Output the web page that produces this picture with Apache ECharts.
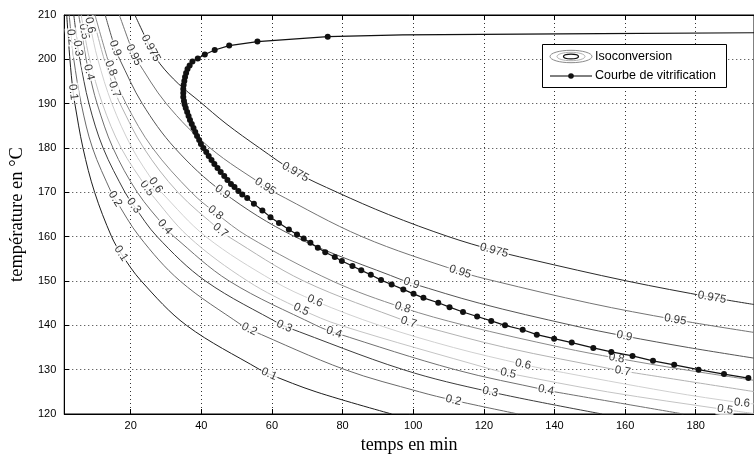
<!DOCTYPE html>
<html><head><meta charset="utf-8">
<script src="https://cdn.jsdelivr.net/npm/echarts@6/dist/echarts.min.js"></script>
<style>html,body{margin:0;padding:0;background:#fff}#c{width:754px;height:459px}</style>
</head><body><div id="c"></div>
<script>
// ---- axis ticks ----
const xTicks = [20, 40, 60, 80, 100, 120, 140, 160, 180];
const X_MIN = 1.2, X_MAX = 196.5, Y_MIN = 120, Y_MAX = 210;

// ---- isoconversion levels ----
const levels = ['0.1','0.2','0.3','0.4','0.5','0.6','0.7','0.8','0.9','0.95','0.975'];

// contours: [time (min), temperature (°C)]
const iso_01 = [[1.9,210],[2.8,200],[3.7,192.6],[4.2,190],[6.5,180],[9.8,170],[14.6,160],[17.3,156.2],[23.0,150],[35.8,140],[56.6,130],[59.2,129],[72.5,125],[93.9,120]];
const iso_02 = [[2.6,210],[3.2,205],[3.9,200],[6.0,190],[9.2,180],[14.5,170],[15.6,168.5],[22.5,160],[34.0,150],[51.5,140],[53.6,139.1],[80.7,130],[101.8,125],[111.4,123.1],[129.7,120]];
const iso_03 = [[3.9,210],[5.1,202.5],[5.6,200],[8.2,190],[12.2,180],[18.4,170],[20.9,167],[27.5,160],[41.2,150],[62.9,140],[63.5,139.8],[97.2,130],[121.8,125],[153.5,120]];
const iso_04 = [[5.3,210],[7.4,200],[8.2,197.1],[10.5,190],[15.0,180],[21.9,170],[29.7,162.2],[32.3,160],[47.9,150],[72.5,140],[77.6,138.4],[111.9,130],[137.6,125.4],[140.1,125],[176.5,120]];
const iso_05 = [[6.0,210],[6.8,206.3],[8.4,200],[12.0,190],[17.3,180],[24.6,170.9],[25.4,170],[36.4,160],[53.1,150],[68.3,143.6],[79.4,140],[122.5,130],[126.9,129.2],[155.0,125],[188.3,121],[196.5,120.1]];
const iso_06 = [[7.9,210],[8.5,207.7],[10.7,200],[14.7,190],[20.4,180],[27.1,171.6],[28.7,170],[41.3,160],[60.5,150],[72.2,145.5],[90.4,140],[111.4,135],[131.1,131.2],[138.2,130],[172.5,125],[193.1,122.5],[196.5,122.3]];
const iso_07 = [[9.2,210],[12.5,200],[15.4,193.2],[17.0,190],[23.7,180],[33.4,170],[45.4,161.4],[47.7,160],[69.0,150],[98.7,140.7],[101.7,140],[126.1,135],[157.2,130],[159.3,129.7],[196.5,125.05]];
const iso_08 = [[9.9,210],[13.5,200],[14.4,198],[18.7,190],[26.2,180],[37.2,170],[44.0,165.4],[53.3,160],[77.1,150],[97.0,144],[114.6,140],[142.0,135],[157.6,132.6],[176.7,130],[196.5,127.6]];
const iso_09 = [[12.8,210],[15.6,202.5],[16.9,200],[23.3,190],[32.5,180],[46.0,170.1],[66.5,160],[97.6,150],[99.5,149.5],[118.7,145],[145.0,140],[159.8,137.6],[177.9,135],[196.5,132.6]];
const iso_095 = [[16.8,210],[20.9,201],[21.6,200],[30.1,190],[42.5,180],[58.1,171.3],[60.7,170],[85.5,160],[113.3,152.1],[123.0,150],[150.0,145],[174.2,141.3],[196.5,138.4]];
const iso_0975 = [[21.2,210],[25.7,202.5],[28.3,199],[33.5,194.5],[39.5,190.5],[47.0,185.5],[56.5,180],[66.6,174.6],[78.5,170],[93.0,165],[110.0,160],[122.9,156.9],[132.5,155],[160.5,150],[184.6,146.3],[196.5,144.7]];

// inline label anchors [time, temperature]
const lab_01 = [[3.7,192.6],[17.3,156.2],[59.2,129]];
const lab_02 = [[3.2,205],[15.6,168.5],[53.6,139.1],[111.4,123.1]];
const lab_03 = [[5.1,202.5],[20.9,167],[63.5,139.8],[121.8,125]];
const lab_04 = [[8.2,197.1],[29.7,162.2],[77.6,138.4],[137.6,125.4]];
const lab_05 = [[6.8,206.3],[24.6,170.9],[68.3,143.6],[126.9,129.2],[188.3,121.0]];
const lab_06 = [[8.5,207.7],[27.1,171.6],[72.2,145.5],[131.1,131.2],[193.1,122.5]];
const lab_07 = [[15.4,193.2],[45.4,161.4],[98.7,140.7],[159.3,129.7]];
const lab_08 = [[14.4,198.0],[44.0,165.4],[97.0,144.0],[157.6,132.6]];
const lab_09 = [[15.6,202.5],[46.0,170.1],[99.5,149.5],[159.8,137.6]];
const lab_095 = [[20.9,201.0],[58.1,171.3],[113.3,152.1],[174.2,141.3]];
const lab_0975 = [[25.7,202.5],[66.6,174.6],[122.9,156.9],[184.6,146.3]];

// vitrification curve
const vitTail = [[196.5,206.0],[153.0,205.8],[97.0,205.5]];
const vitPoints = [[75.8,205.1],[55.9,204.0],[47.9,203.1],[43.8,202.1],[41.0,201.1],[39.0,200.2],[37.5,199.5],[36.7,198.6],[36.1,197.8],[35.7,196.9],[35.4,196.0],[35.2,195.1],[35.0,194.2],[34.9,193.3],[34.9,192.4],[34.9,191.5],[35.1,190.6],[35.3,189.8],[35.6,189.0],[36.0,188.1],[36.4,187.2],[36.8,186.3],[37.3,185.4],[37.8,184.5],[38.3,183.6],[38.8,182.7],[39.4,181.8],[39.9,180.9],[40.6,180.0],[41.4,179.1],[42.1,178.2],[42.9,177.3],[43.7,176.4],[44.6,175.5],[45.5,174.6],[46.5,173.7],[47.4,172.8],[48.4,171.9],[49.4,171.2],[50.5,170.3],[51.6,169.5],[53.0,168.7],[54.9,167.4],[57.3,165.9],[59.6,164.4],[62.0,163.1],[64.8,161.6],[67.1,160.5],[69.0,159.6],[70.9,158.6],[73.0,157.5],[75.1,156.5],[77.8,155.4],[79.8,154.5],[82.8,153.4],[85.3,152.4],[88.0,151.4],[90.9,150.2],[93.9,149.2],[97.2,148.1],[100.1,147.1],[102.9,146.2],[107.1,145.1],[110.3,144.1],[114.1,143.0],[118.1,142.0],[122.1,141.0],[126.0,140.0],[131.0,139.0],[135.0,137.9],[139.9,137.0],[144.9,136.1],[151.0,134.9],[156.1,134.0],[162.1,133.1],[167.9,132.0],[173.9,131.1],[180.8,130.0],[188.0,129.0],[194.9,128.1]];

const isoData = [iso_01,iso_02,iso_03,iso_04,iso_05,iso_06,iso_07,iso_08,iso_09,iso_095,iso_0975];
const isoLabels = [lab_01,lab_02,lab_03,lab_04,lab_05,lab_06,lab_07,lab_08,lab_09,lab_095,lab_0975];
const isoColors = ['#1e1e1e','#6a6a6a','#3c3c3c','#707070','#c4c4c4','#d0d0d0','#b2b2b2','#8a8a8a','#555555','#747474','#2a2a2a'];

const SANS = 'Liberation Sans, Arial, sans-serif';
const SERIF = 'Liberation Serif, Times New Roman, serif';

const chart = echarts.init(document.getElementById('c'), null, {renderer: 'canvas'});

const contourSeries = levels.map((lv, i) => ({
  type: 'line', name: 'iso' + lv, data: isoData[i], symbol: 'none', showSymbol: false,
  smooth: 0.35, lineStyle: {color: isoColors[i], width: 1}, z: 2, silent: true, clip: true
}));

const vitData = vitTail.map(p => ({value: p, symbol: 'none'})).concat(vitPoints.map(p => ({value: p})));
const vitSeries = {
  type: 'line', name: 'vitrification', data: vitData, symbol: 'circle', symbolSize: 6,
  showSymbol: true, showAllSymbol: true,
  itemStyle: {color: '#111'}, lineStyle: {color: '#111', width: 1.2}, z: 5, clip: true
};

const option = {
  animation: false,
  backgroundColor: '#fff',
  grid: {left: 61, top: 15, width: 693, height: 400, show: true, borderColor: '#000', borderWidth: 1, backgroundColor: 'transparent'},
  xAxis: [{
    type: 'value', min: X_MIN, max: X_MAX,
    name: 'temps en min', nameLocation: 'middle', nameGap: 22,
    nameTextStyle: {fontFamily: SERIF, fontSize: 18, color: '#000'},
    axisLine: {show: true, lineStyle: {color: '#000', width: 1}},
    axisTick: {show: true, inside: true, length: 5, customValues: xTicks, lineStyle: {color: '#000'}},
    axisLabel: {customValues: xTicks, fontFamily: SANS, fontSize: 11, color: '#000', margin: 6},
    splitLine: {show: true, lineStyle: {color: '#333', type: [1, 3], width: 1}}
  }, {
    type: 'value', min: X_MIN, max: X_MAX, position: 'top',
    axisLine: {show: true, lineStyle: {color: '#000'}},
    axisTick: {show: true, inside: true, length: 5, customValues: xTicks, lineStyle: {color: '#000'}},
    axisLabel: {show: false}, splitLine: {show: false}
  }],
  yAxis: [{
    type: 'value', min: Y_MIN, max: Y_MAX, interval: 10,
    name: 'température en °C', nameLocation: 'middle', nameGap: 31, nameRotate: 90,
    nameTextStyle: {fontFamily: SERIF, fontSize: 18.5, color: '#000'},
    axisLine: {show: true, lineStyle: {color: '#000'}},
    axisTick: {show: true, inside: true, length: 5, lineStyle: {color: '#000'}},
    axisLabel: {fontFamily: SANS, fontSize: 11, color: '#000', margin: 8},
    splitLine: {show: true, lineStyle: {color: '#333', type: [1, 3], width: 1}}
  }],
  series: contourSeries.concat([vitSeries]),
  graphic: [
    {type: 'rect', shape: {x: 542.5, y: 44.5, width: 184, height: 43}, style: {fill: '#fff', stroke: '#000', lineWidth: 1}, z: 100},
    {type: 'ellipse', shape: {cx: 571, cy: 56.5, rx: 21, ry: 6.2}, style: {fill: 'none', stroke: '#8a8a8a', lineWidth: 1}, z: 101},
    {type: 'ellipse', shape: {cx: 571, cy: 56.5, rx: 14, ry: 4.2}, style: {fill: 'none', stroke: '#b0b0b0', lineWidth: 1}, z: 101},
    {type: 'ellipse', shape: {cx: 571, cy: 56.5, rx: 7.5, ry: 2.4}, style: {fill: 'none', stroke: '#111', lineWidth: 1.3}, z: 101},
    {type: 'text', x: 595, y: 56.5, style: {text: 'Isoconversion', fontFamily: SANS, fontSize: 12.5, fill: '#000', verticalAlign: 'middle', align: 'left'}, z: 101},
    {type: 'line', shape: {x1: 550, y1: 76, x2: 592, y2: 76}, style: {stroke: '#000', lineWidth: 1}, z: 101},
    {type: 'circle', shape: {cx: 571, cy: 76, r: 2.8}, style: {fill: '#111'}, z: 101},
    {type: 'text', x: 595, y: 76, style: {text: 'Courbe de vitrification', fontFamily: SANS, fontSize: 12.5, fill: '#000', verticalAlign: 'middle', align: 'left'}, z: 101}
  ]
};
chart.setOption(option);

// inline contour labels, rotated along the line
function ptAt(d, T) {
  for (let i = 0; i < d.length - 1; i++) {
    const a = d[i], b = d[i + 1];
    if ((a[1] - T) * (b[1] - T) <= 0 && a[1] !== b[1]) {
      const f = (a[1] - T) / (a[1] - b[1]);
      return [a[0] + f * (b[0] - a[0]), T];
    }
  }
  return null;
}
function angleFor(d, T) {
  let pa = null, pb = null;
  for (const h of [1.5, 1.0, 0.6, 0.3, 0.1]) {
    pa = ptAt(d, T + h); pb = ptAt(d, T - h);
    if (pa && pb) break;
  }
  if (!pa || !pb) { pa = d[d.length - 2]; pb = d[d.length - 1]; }
  const A = chart.convertToPixel({gridIndex: 0}, pa);
  const B = chart.convertToPixel({gridIndex: 0}, pb);
  return -Math.atan2(B[1] - A[1], B[0] - A[0]) * 180 / Math.PI;
}
const labelData = [];
levels.forEach((lv, i) => {
  isoLabels[i].forEach(p => {
    labelData.push({value: p, label: {formatter: lv, rotate: angleFor(isoData[i], p[1])}});
  });
});
chart.setOption({
  series: contourSeries.concat([vitSeries, {
    type: 'scatter', name: 'labels', data: labelData, symbolSize: 1,
    itemStyle: {color: 'rgba(0,0,0,0)'}, z: 3, silent: true, clip: true,
    label: {show: true, position: 'inside', fontFamily: SANS, fontSize: 11.5, color: '#000',
      backgroundColor: '#fff', padding: [0, 1]}
  }])
});
</script>
</body></html>
